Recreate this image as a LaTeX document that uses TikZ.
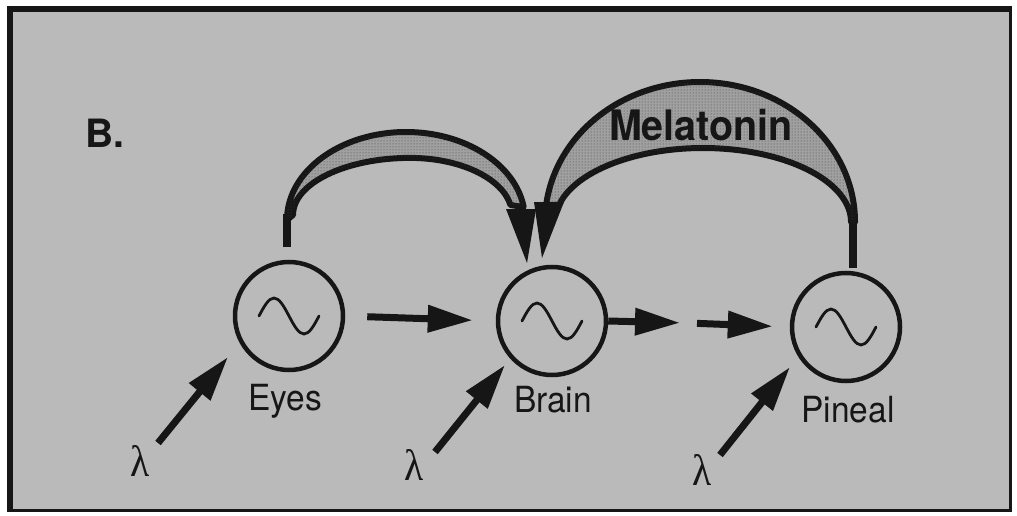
\documentclass[tikz,border=0pt]{standalone}
\usepackage{fontspec}
\setmainfont{TeX Gyre Heros}
\newfontfamily\lamfont{Liberation Serif}
\usetikzlibrary{arrows.meta,patterns}
\definecolor{paper}{RGB}{186,186,186}
\definecolor{ink}{RGB}{22,22,22}
\definecolor{stip}{RGB}{160,160,160}
\tikzset{
  osc/.style={circle, draw=ink, line width=4.5pt, minimum size=108pt, inner sep=0pt},
  lab/.style={anchor=base, inner sep=0pt, text=ink, xscale=0.93, font=\fontsize{36}{36}\selectfont},
  lam/.style={anchor=base, inner sep=0pt, text=ink, xscale=0.9, font=\lamfont\fontsize{44}{44}\selectfont},
  fatarrow/.style={draw=ink, line width=7pt, -{Triangle[length=45pt,width=26pt]}},
  band/.style={fill=stip, draw=ink, line width=6pt, line join=round,
               postaction={pattern=dots, pattern color=black!75}},
  stem/.style={draw=ink, line width=7.5pt},
  pics/osc wave/.style={code={
    \draw[ink, line width=2.8pt, line cap=round]
      (-30,0) sin (-15,18) cos (0,0) sin (15,-18) cos (30,0);}}
}
\begin{document}
\begin{tikzpicture}[x=1pt,y=1pt]
\useasboundingbox (0,0) rectangle (1017,-516);
% paper and frame
\fill[white] (0,0) rectangle (1017,-516);
\fill[ink] (7,-6) rectangle (1012,-512);
\fill[paper] (13,-12) rectangle (1009,-509);

% oscillators
\node[osc] (eyes) at (289,-316) {};
\node[osc] (brain) at (552,-321) {};
\node[osc] (pineal) at (846,-327) {};
\pic at (eyes) {osc wave};
\pic at (brain) {osc wave};
\pic at (pineal) {osc wave};

% labels
\node[lab] (leyes) at (285,-410) {Eyes};
\node[lab] (lbrain) at (553,-412) {Brain};
\node[lab] (lpineal) at (848,-422) {Pineal};
\node[anchor=base west, inner sep=0pt, text=ink, font=\bfseries\fontsize{39}{39}\selectfont] (B) at (85,-148) {B.};

% curved band: eyes -> brain
\draw[stem] (287,-247) -- (287,-214);
\path[band] (287,-220) arc[start angle=180, end angle=8.5, x radius=119, y radius=88]
  -- (510.5,-205) arc[start angle=10, end angle=90, x radius=102, y radius=57]
  arc[start angle=90, end angle=180, x radius=117, y radius=57] -- cycle;
\fill[ink] (506,-209) -- (536,-209) -- (527,-263) -- cycle;

% curved band: pineal -> brain (melatonin)
\draw[stem] (853,-268) -- (853,-218);
\path[band] (855,-222) arc[start angle=0, end angle=173, x radius=155, y radius=140]
  -- (559,-205) arc[start angle=166.7, end angle=0, x radius=148, y radius=74] -- cycle;
\fill[ink] (534,-202) -- (564,-202) -- (542,-258) -- cycle;
\node[anchor=base, inner sep=0pt, text=ink, xscale=0.94, font=\bfseries\fontsize{42}{42}\selectfont] (mel) at (701,-140) {Melatonin};

% straight arrows between oscillators
\coordinate (gap) at (688,-323);
\draw[fatarrow, shorten <=22pt, shorten >=23pt] (eyes.east) -- (brain.west);
\draw[fatarrow, shorten >=8pt] (brain.east) -- (gap);
\draw[fatarrow, shorten <=9pt, shorten >=17pt] (gap) -- (pineal.west);

% light inputs
\node[lam] (lam1) at (140,-476) {λ};
\node[lam] (lam2) at (414,-480) {λ};
\node[lam] (lam3) at (702,-485) {λ};
\coordinate (t1) at (158,-443); \coordinate (h1) at (228,-357);
\coordinate (t2) at (435,-452); \coordinate (h2) at (505,-365);
\coordinate (t3) at (720,-455); \coordinate (h3) at (790,-367);
\draw[fatarrow] (t1) -- (h1);
\draw[fatarrow] (t2) -- (h2);
\draw[fatarrow] (t3) -- (h3);
\end{tikzpicture}
\end{document}
